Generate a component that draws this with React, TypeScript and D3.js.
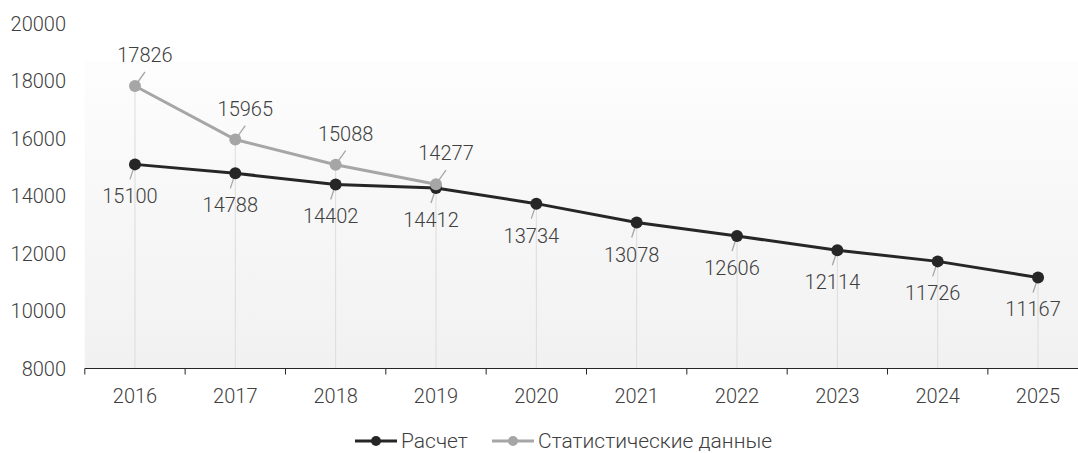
import React from "react";
import * as d3 from "d3";

// chart data
const years = ["2016", "2017", "2018", "2019", "2020", "2021", "2022", "2023", "2024", "2025"];
const calcValues = [15100, 14788, 14402, 14277, 13734, 13078, 12606, 12114, 11726, 11167];
const calcLabels = ["15100", "14788", "14402", "14412", "13734", "13078", "12606", "12114", "11726", "11167"];
const statValues = [17826, 15965, 15088, 14412];
const statLabels = ["17826", "15965", "15088", "14277"];
const yTicks = [8000, 10000, 12000, 14000, 16000, 18000, 20000];
const seriesNames = ["Расчет", "Статистические данные"];

const width = 1078;
const height = 453;
const font = "Roboto, 'Noto Sans', sans-serif";
const calcColor = "#262626";
const statColor = "#a6a6a6";
const textColor = "#404040";

const App = () => {
  const x = d3.scaleBand().domain(years).range([84.8, 1088.2]);
  const y = d3.scaleLinear().domain([8000, 20000]).range([368.5, 23.5]);
  const cx = (i) => x(years[i]) + x.bandwidth() / 2;

  const line = d3
    .line()
    .x((d, i) => cx(i))
    .y((d) => y(d));

  const plotTop = 61;
  const bottom = y(8000);

  return (
    <svg
      width={width}
      height={height}
      style={{ position: "absolute", left: 0, top: 0, background: "#fff" }}
      fontFamily={font}
      fontWeight={300}
    >
      <defs>
        <linearGradient id="bg" x1="0" y1="0" x2="0" y2="1">
          <stop offset="0%" stopColor="#fdfdfd" />
          <stop offset="100%" stopColor="#f1f1f1" />
        </linearGradient>
      </defs>
      <rect x={84.8} y={plotTop} width={width - 84.8} height={bottom - plotTop} fill="url(#bg)" />

      {/* drop lines */}
      {years.map((yr, i) => {
        const top = Math.max(calcValues[i], statValues[i] ?? 0);
        return (
          <line key={"d" + yr} x1={cx(i)} x2={cx(i)} y1={y(top)} y2={bottom} stroke="#dcdcdc" strokeWidth={1} />
        );
      })}

      {/* y labels */}
      {yTicks.map((t) => (
        <text key={t} x={66} y={y(t)} dy="0.35em" textAnchor="end" fontSize={20} fill={textColor}>
          {t}
        </text>
      ))}

      {/* x axis */}
      <line x1={84.8} x2={width} y1={bottom} y2={bottom} stroke={calcColor} strokeWidth={1.2} />
      {years.map((yr, i) => (
        <g key={"x" + yr}>
          <line x1={x(yr)} x2={x(yr)} y1={bottom} y2={bottom + 6} stroke={calcColor} strokeWidth={1} />
          <text x={cx(i)} y={bottom + 27} dy="0.35em" textAnchor="middle" fontSize={20} fill={textColor}>
            {yr}
          </text>
        </g>
      ))}

      {/* leader lines */}
      {calcValues.map((v, i) => {
        const px = cx(i), py = y(v);
        const lx = px - 5, ly = py + 32;
        return <line key={"lc" + i} x1={px} y1={py} x2={lx} y2={ly - 17} stroke={statColor} strokeWidth={1.3} />;
      })}
      {statValues.map((v, i) => {
        const px = cx(i), py = y(v);
        const lx = px + 10, ly = py - 31;
        return <line key={"ls" + i} x1={px} y1={py} x2={lx} y2={ly + 17} stroke={statColor} strokeWidth={1.3} />;
      })}

      {/* lines */}
      <path d={line(calcValues)} fill="none" stroke={calcColor} strokeWidth={3} />
      {calcValues.map((v, i) => (
        <circle key={"c" + i} cx={cx(i)} cy={y(v)} r={6} fill={calcColor} />
      ))}
      <path d={line(statValues)} fill="none" stroke={statColor} strokeWidth={3} />
      {statValues.map((v, i) => (
        <circle key={"s" + i} cx={cx(i)} cy={y(v)} r={6} fill={statColor} />
      ))}

      {/* data labels */}
      {calcValues.map((v, i) => (
        <text key={"tc" + i} x={cx(i) - 5} y={y(v) + 32} dy="0.35em" textAnchor="middle" fontSize={20} fill={textColor}>
          {calcLabels[i]}
        </text>
      ))}
      {statValues.map((v, i) => (
        <text key={"ts" + i} x={cx(i) + 10} y={y(v) - 31} dy="0.35em" textAnchor="middle" fontSize={20} fill={textColor}>
          {statLabels[i]}
        </text>
      ))}

      {/* legend */}
      <g transform="translate(355,441)">
        <line x1={0} x2={42} y1={0} y2={0} stroke={calcColor} strokeWidth={3} />
        <circle cx={21} cy={0} r={5} fill={calcColor} />
        <text x={46} y={0} dy="0.35em" fontSize={21} fill={textColor}>{seriesNames[0]}</text>
      </g>
      <g transform="translate(492,441)">
        <line x1={0} x2={42} y1={0} y2={0} stroke={statColor} strokeWidth={3} />
        <circle cx={21} cy={0} r={5} fill={statColor} />
        <text x={46} y={0} dy="0.35em" fontSize={21} fill={textColor}>{seriesNames[1]}</text>
      </g>
    </svg>
  );
};

export default App;
